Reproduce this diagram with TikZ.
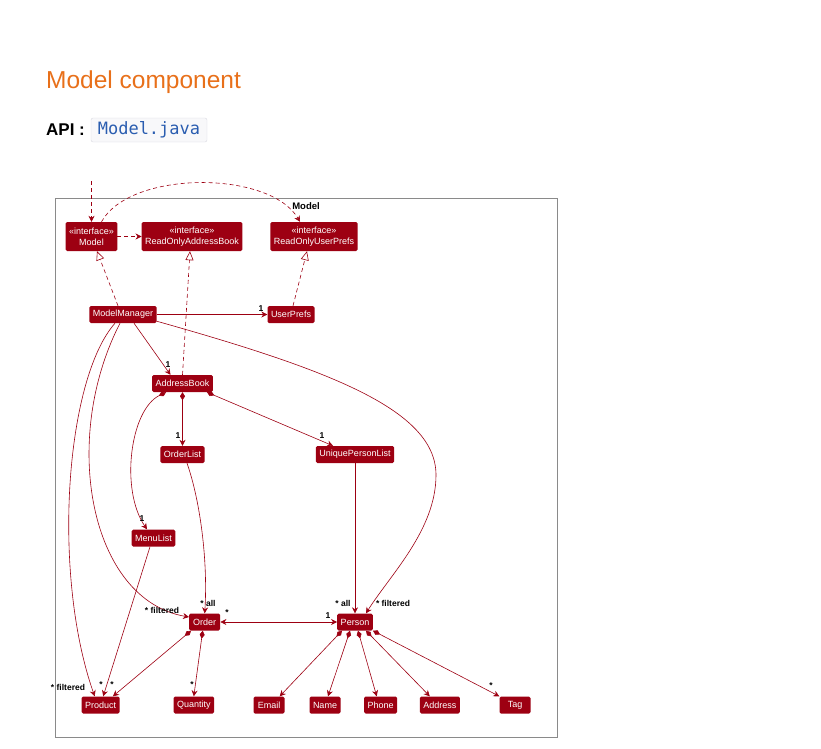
\documentclass[tikz,border=0pt]{standalone}
\usepackage{fontspec}
\setmainfont{Liberation Sans}
\newfontfamily\codefont{DejaVu Sans Mono}
\usetikzlibrary{arrows.meta,calc}
\definecolor{modelred}{HTML}{9D0012}
\definecolor{titleorange}{HTML}{E8701A}
\definecolor{codeblue}{HTML}{2A5DB0}
\definecolor{codebg}{HTML}{F8F8FA}
\definecolor{codeborder}{HTML}{D8D8E0}
\definecolor{framegray}{HTML}{8A8A8A}

\begin{document}
\begin{tikzpicture}[x=1pt,y=-1pt,
        >={Stealth[length=6pt,width=6pt,inset=2pt]},
        cls/.style={fill=modelred,text=white,rounded corners=1.5pt,inner xsep=3.5pt,inner ysep=0pt,
            minimum height=17pt,minimum width=31pt,font=\fontsize{9}{10}\selectfont},
        iface/.style={cls,align=center,minimum height=29pt,font=\fontsize{9}{11}\selectfont},
        assoc/.style={draw=modelred,line width=0.6pt,->},
        dep/.style={assoc,dash pattern=on 4pt off 3pt},
        realize/.style={draw=modelred,line width=0.6pt,dash pattern=on 4pt off 3pt,
            -{Triangle[open,length=9pt,width=8pt,fill=white]}},
        comp/.style={draw=modelred,line width=0.6pt,{Diamond[length=8pt,width=5pt]}->},
        mult/.style={font=\fontsize{8.5}{9}\selectfont\bfseries,inner sep=0pt}]
        \useasboundingbox (0,0) rectangle (821,748);

        % page heading
        \node[anchor=base west,inner sep=0pt,text=titleorange,font=\fontsize{24.5}{28}\selectfont] (title) at (46,88) {Model component};
        \node[anchor=base west,inner sep=0pt,font=\fontsize{17}{19}\selectfont] (api) at (46,135.5) {\bfseries API :};
        \node[draw=codeborder,fill=codebg,rounded corners=2pt,minimum width=116pt,minimum height=24pt,
            text height=12.5pt,text depth=3.5pt,inner sep=0pt,text=codeblue,font=\codefont\fontsize{17}{19}\selectfont]
            (apifile) at (149,130) {Model.java};

        % package frame
        \draw[framegray,line width=0.8pt] (55,198) rectangle (557,737);
        \node[mult,font=\fontsize{9.5}{10}\selectfont\bfseries] (pkg) at (306,206) {Model};

        % classes
        \node[iface] (model) at (91.5,236.5) {«interface»\\Model};
        \node[iface] (roab) at (192,236.5) {«interface»\\ReadOnlyAddressBook};
        \node[iface] (roup) at (314,236.5) {«interface»\\ReadOnlyUserPrefs};
        \node[cls] (modelmanager) at (123,314.5) {ModelManager};
        \node[cls] (userprefs) at (291,314.5) {UserPrefs};
        \node[cls] (addressbook) at (182.5,383.5) {AddressBook};
        \node[cls] (orderlist) at (182.5,454.5) {OrderList};
        \node[cls] (uniquepersonlist) at (355,454.5) {UniquePersonList};
        \node[cls] (menulist) at (153.5,538) {MenuList};
        \node[cls] (order) at (204.7,622) {Order};
        \node[cls] (person) at (355,622) {Person};
        \node[cls] (product) at (100.7,705) {Product};
        \node[cls] (quantity) at (193.8,705) {Quantity};
        \node[cls] (email) at (269,705) {Email};
        \node[cls] (name) at (325,705) {Name};
        \node[cls] (phone) at (380.7,705) {Phone};
        \node[cls] (address) at (439.8,705) {Address};
        \node[cls] (tag) at (515,705) {Tag};
        \coordinate (entry) at (91.5,181);

        % interfaces
        \draw[dep] (entry) -- (model.north);
        \draw[dep] (model.east) -- (roab.west);
        \draw[dep] ($(model.north)+(10,0)$) .. controls (130,170) and (270,170) .. ($(roup.north)+(-14,0)$);
        \draw[realize] ($(modelmanager.north)+(-5,0)$) -- ($(model.south)+(5.5,0)$);
        \draw[realize] (addressbook.north) -- ($(roab.south)+(-2,0)$);
        \draw[realize] ($(userprefs.north)+(2,0)$) -- ($(roup.south)+(-7,0)$);

        % ModelManager
        \draw[assoc] (modelmanager.east) -- (userprefs.west);
        \draw[assoc] ($(modelmanager.south)+(11,0)$) -- ($(addressbook.north)+(-12,0)$);
        \draw[assoc] ($(modelmanager.south east)+(0,-2)$) .. controls (330,370) and (436,410) .. (436,475)
            .. controls (436,530) and (390,575) .. ($(person.north)+(11,0)$);
        \draw[assoc] ($(modelmanager.south)+(-8,0)$) .. controls (65,380) and (52,575) .. ($(product.north)+(-6,0)$);
        \draw[assoc] ($(modelmanager.south)+(-3,0)$) .. controls (60,440) and (90,600) .. ($(order.west)+(0,-5)$);

        % AddressBook
        \draw[comp] (addressbook.south) -- (orderlist.north);
        \draw[comp] ($(addressbook.south east)+(-6,0)$) -- ($(uniquepersonlist.north)+(-22,0)$);
        \draw[comp] ($(addressbook.south west)+(14,0)$) .. controls (130,410) and (120,490) .. ($(menulist.north)+(-6.5,0)$);
        \draw[assoc] ($(orderlist.south)+(4.5,0)$) .. controls (200,500) and (208,560) .. (order.north);
        \draw[assoc] (uniquepersonlist.south) -- (person.north);
        \draw[assoc] ($(menulist.south)+(-3.5,0)$) -- ($(product.north)+(2.5,0)$);

        % Order and Person
        \draw[assoc,<->] (order.east) -- (person.west);
        \draw[comp] ($(order.south west)+(2,0)$) -- ($(product.north east)+(-7,0)$);
        \draw[comp] ($(order.south)+(-2,0)$) -- (quantity.north);
        \draw[comp] ($(person.south)+(-13,0)$) -- ($(email.north east)+(-5,0)$);
        \draw[comp] ($(person.south)+(-5,0)$) -- ($(name.north)+(3,0)$);
        \draw[comp] ($(person.south)+(3,0)$) -- ($(phone.north)+(-4,0)$);
        \draw[comp] ($(person.south)+(11,0)$) -- ($(address.north)+(-10,0)$);
        \draw[comp] (person.south east) -- (tag.north west);

        % multiplicities
        \node[mult] (m1) at (261,309) {1};
        \node[mult] (m2) at (168,365) {1};
        \node[mult] (m3) at (178,436) {1};
        \node[mult] (m4) at (322,436) {1};
        \node[mult] (m5) at (142,519) {1};
        \node[mult] (m6) at (162,610) {* filtered};
        \node[mult] (m7) at (208,603) {* all};
        \node[mult] (m8) at (227,613) {*};
        \node[mult] (m9) at (328,616) {1};
        \node[mult] (m10) at (343,603) {* all};
        \node[mult] (m11) at (393,603) {* filtered};
        \node[mult] (m12) at (68,687) {* filtered};
        \node[mult] (m13) at (101,685) {*};
        \node[mult] (m14) at (112,685) {*};
        \node[mult] (m15) at (192,685) {*};
        \node[mult] (m16) at (491,686) {*};
\end{tikzpicture}
\end{document}
